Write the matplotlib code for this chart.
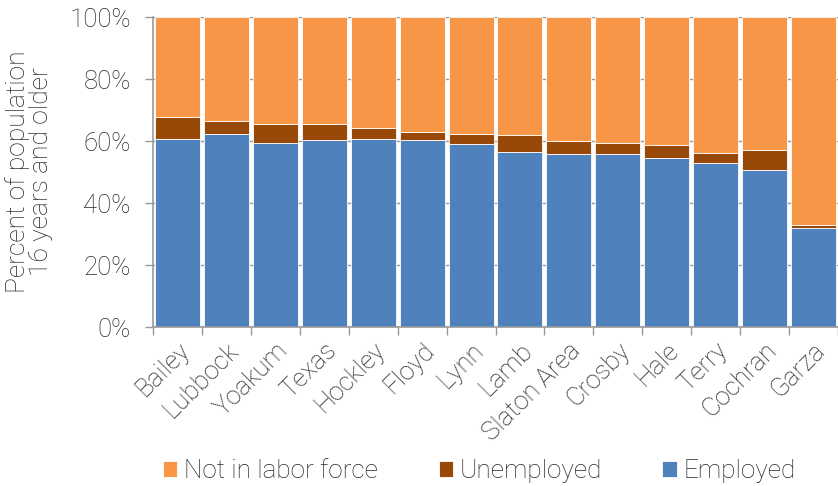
import matplotlib.pyplot as plt
import numpy as np
from matplotlib.ticker import PercentFormatter

places = ['Bailey', 'Lubbock', 'Yoakum', 'Texas', 'Hockley', 'Floyd', 'Lynn',
          'Lamb', 'Slaton Area', 'Crosby', 'Hale', 'Terry', 'Cochran', 'Garza']
employed = [60.6, 62.3, 59.4, 60.3, 60.5, 60.3, 58.9,
            56.5, 55.8, 55.7, 54.5, 53.0, 50.6, 31.8]
unemployed = [7.0, 4.2, 6.1, 5.1, 3.8, 2.5, 3.4,
              5.6, 4.3, 3.8, 4.1, 3.3, 6.4, 1.0]
not_in_lf = [100 - e - u for e, u in zip(employed, unemployed)]

c_emp = '#4F81BD'
c_unemp = '#984807'
c_nlf = '#F79646'
txt = '#262626'

plt.rcParams['font.family'] = ['Roboto', 'DejaVu Sans']
plt.rcParams['font.weight'] = 'light'
plt.rcParams['axes.labelweight'] = 'light'

fig = plt.figure(figsize=(8.38, 4.86), dpi=100)
ax = fig.add_axes([0.1826, 0.327, 0.8174, 0.638])

x = np.arange(len(places))
w = 0.92
b1 = ax.bar(x, employed, w, color=c_emp, edgecolor='white', linewidth=0.6, label='Employed', zorder=2)
b2 = ax.bar(x, unemployed, w, bottom=employed, color=c_unemp, edgecolor='white', linewidth=0.6,
            label='Unemployed', zorder=2)
bottom2 = [e + u for e, u in zip(employed, unemployed)]
b3 = ax.bar(x, not_in_lf, w, bottom=bottom2, color=c_nlf, edgecolor='white', linewidth=0.6,
            label='Not in labor force', zorder=2)

ax.set_xlim(-0.5, len(places) - 0.5)
ax.set_ylim(0, 100)
ax.set_yticks(range(0, 101, 20))
ax.yaxis.set_major_formatter(PercentFormatter(decimals=0))
ax.yaxis.grid(True, color='#999999', linewidth=1, zorder=0)
ax.set_axisbelow(True)

ax.set_xticks(x)
ax.set_xticklabels(places, rotation=45, ha='right', rotation_mode='anchor')
ax.set_xticks(np.arange(-0.5, len(places), 1), minor=True)
ax.tick_params(axis='x', which='major', length=0, pad=8, labelsize=18.5, colors=txt)
ax.tick_params(axis='x', which='minor', length=6, color='#999999', width=1)
ax.tick_params(axis='y', length=6, color='#999999', width=1, labelsize=18.5, labelcolor=txt, pad=10)

for s in ['top', 'right']:
    ax.spines[s].set_visible(False)
for s in ['left', 'bottom']:
    ax.spines[s].set_color('#999999')
    ax.spines[s].set_linewidth(1.2)

ax.set_ylabel('Percent of population\n16 years and older', fontsize=19, color=txt,
              linespacing=0.9, labelpad=12)

fig.legend(handles=[b3, b2, b1], labels=['Not in labor force', 'Unemployed', 'Employed'],
           loc='lower center', bbox_to_anchor=(0.572, -0.043), ncol=3, frameon=False,
           fontsize=18.8, handlelength=0.54, handleheight=0.54, handletextpad=0.25,
           columnspacing=2.33, labelcolor=txt)

fig.savefig('out.png', dpi=100)
